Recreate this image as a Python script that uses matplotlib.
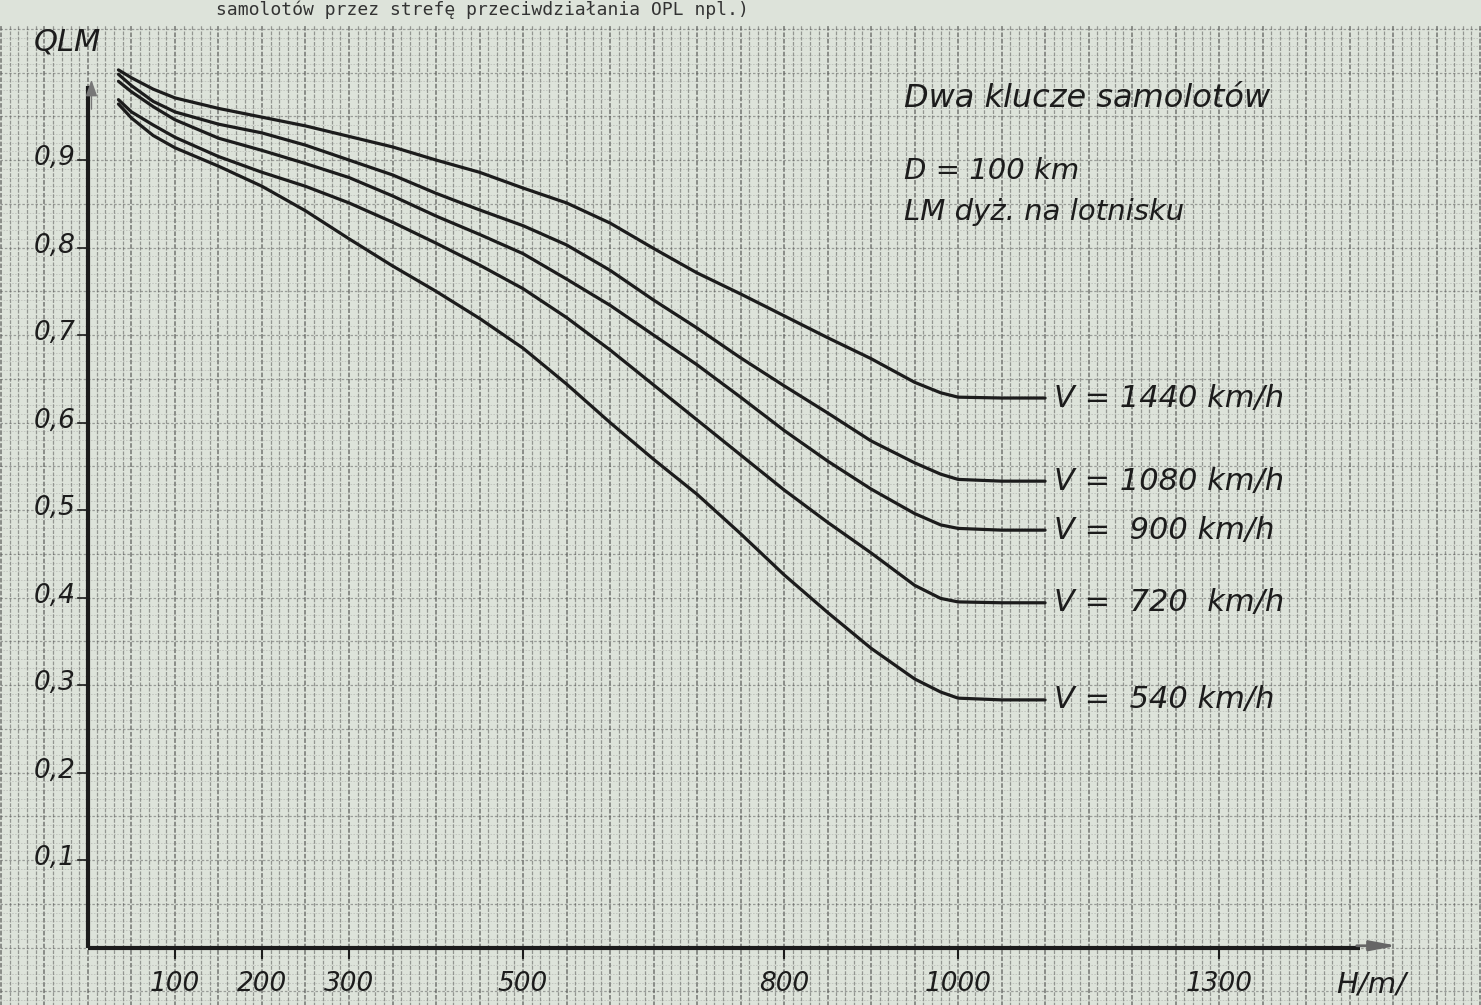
import numpy as np
import matplotlib
matplotlib.use("Agg")
import matplotlib.pyplot as plt

# ---- dane: H [m] -> Q_LM ----
H = [35, 50, 75, 100, 150, 200, 250, 300, 350, 400, 450, 500, 550,
     600, 650, 700, 750, 800, 850, 900, 950, 980, 1000, 1050, 1100]

Q_1440 = [1.003, 0.994, 0.981, 0.971, 0.959, 0.949, 0.939, 0.927, 0.915, 0.900, 0.886, 0.868, 0.851,
          0.828, 0.799, 0.771, 0.747, 0.722, 0.697, 0.673, 0.646, 0.634, 0.629, 0.628, 0.628]
Q_1080 = [0.998, 0.985, 0.967, 0.955, 0.941, 0.931, 0.917, 0.900, 0.883, 0.862, 0.843, 0.825, 0.803,
          0.774, 0.740, 0.708, 0.674, 0.642, 0.611, 0.579, 0.554, 0.541, 0.535, 0.533, 0.533]
Q_900 = [0.990, 0.978, 0.961, 0.946, 0.925, 0.911, 0.896, 0.880, 0.859, 0.836, 0.815, 0.793, 0.764,
         0.734, 0.700, 0.666, 0.629, 0.591, 0.556, 0.524, 0.496, 0.483, 0.479, 0.477, 0.477]
Q_720 = [0.969, 0.955, 0.940, 0.926, 0.904, 0.886, 0.870, 0.851, 0.829, 0.805, 0.780, 0.753, 0.720,
         0.683, 0.643, 0.603, 0.563, 0.523, 0.486, 0.451, 0.414, 0.399, 0.395, 0.394, 0.394]
Q_540 = [0.964, 0.948, 0.928, 0.914, 0.893, 0.870, 0.842, 0.810, 0.779, 0.750, 0.719, 0.685, 0.644,
         0.600, 0.558, 0.518, 0.473, 0.426, 0.383, 0.342, 0.307, 0.292, 0.285, 0.283, 0.283]

curves = [
    (Q_1440, "V = 1440 km/h"),
    (Q_1080, "V = 1080 km/h"),
    (Q_900, "V =  900 km/h"),
    (Q_720, "V =  720  km/h"),
    (Q_540, "V =  540 km/h"),
]

x_ticks = [100, 200, 300, 500, 800, 1000, 1300]
y_ticks = [0.1, 0.2, 0.3, 0.4, 0.5, 0.6, 0.7, 0.8, 0.9]

# ---- rysunek ----
paper = "#dde3da"
ink = "#1c1c1c"
fig = plt.figure(figsize=(14.81, 10.05), dpi=100, facecolor=paper)
ax = fig.add_axes([0, 0, 1, 1])
ax.set_facecolor(paper)
ax.set_xlim(-101.1, 1601)
ax.set_ylim(-0.0657, 1.0829)
ax.axis("off")

# papier milimetrowy
grid_top = 1.054
for h in np.arange(-100, 1601, 10):
    major = (h % 50 == 0)
    ax.vlines(h, -0.07, grid_top, colors="#3a3a3a" if major else "#4a4a4a",
              linewidth=1.1 if major else 0.9, linestyles=(0, (3, 1.2)),
              alpha=0.65 if major else 0.5, zorder=1)
for q in np.arange(-0.06, grid_top, 0.01):
    major = (round(q * 100) % 5 == 0)
    ax.hlines(q, -101.1, 1601, colors="#555555" if major else "#888888",
              linewidth=0.9 if major else 0.6, linestyles=(0, (2, 1.5)),
              alpha=0.5 if major else 0.35, zorder=1)

# naglowek
ax.text(147, 1.082, "samolotów przez strefę przeciwdziałania OPL npl.)",
        family="DejaVu Sans Mono", fontsize=13, color="#333333",
        va="top", ha="left", zorder=3)

# osie
ax.plot([0, 0], [0, 0.985], color=ink, linewidth=3, zorder=4, solid_capstyle="butt")
ax.annotate("", xy=(4, 0.995), xytext=(4, 0.955),
            arrowprops=dict(arrowstyle="-|>,head_width=0.35,head_length=1.0",
                            color="#777777", lw=1), zorder=4)
ax.plot([0, 1462], [0, 0], color=ink, linewidth=3, zorder=4, solid_capstyle="butt")
ax.annotate("", xy=(1508, 0.002), xytext=(1455, 0.002),
            arrowprops=dict(arrowstyle="-|>,head_width=0.3,head_length=1.6",
                            color="#666666", lw=2), zorder=4)

font_it = dict(family="DejaVu Sans", style="oblique", color=ink)

# etykiety osi X
for xt in x_ticks:
    ax.plot([xt, xt], [-0.004, -0.012], color=ink, linewidth=1.5, zorder=4)
    ax.text(xt, -0.042, str(xt), ha="center", va="center", fontsize=19, **font_it)
ax.text(1475, -0.042, "H/m/", ha="center", va="center", fontsize=21, **font_it)

# etykiety osi Y
for yt in y_ticks:
    ax.plot([-12, -2], [yt, yt], color=ink, linewidth=1.2, zorder=4)
    ax.text(-14, yt + 0.002, f"{yt:.1f}".replace(".", ","), ha="right", va="center",
            fontsize=19, **font_it)
ax.text(-62, 1.035, "QLM", ha="left", va="center", fontsize=22, **font_it)

# krzywe
for q, label in curves:
    ax.plot(H, q, color=ink, linewidth=2.3, zorder=5,
            solid_capstyle="round", solid_joinstyle="round")
    ax.text(H[-1] + 10, q[-1], label, ha="left", va="center", fontsize=22, **font_it)

# opis
ax.text(938, 0.97, "Dwa klucze samolotów", ha="left", va="center", fontsize=23, **font_it)
ax.text(938, 0.888, "D = 100 km", ha="left", va="center", fontsize=21, **font_it)
ax.text(938, 0.841, "LM dyż. na lotnisku", ha="left", va="center", fontsize=21, **font_it)

fig.savefig("out.png", dpi=100, facecolor=paper)
